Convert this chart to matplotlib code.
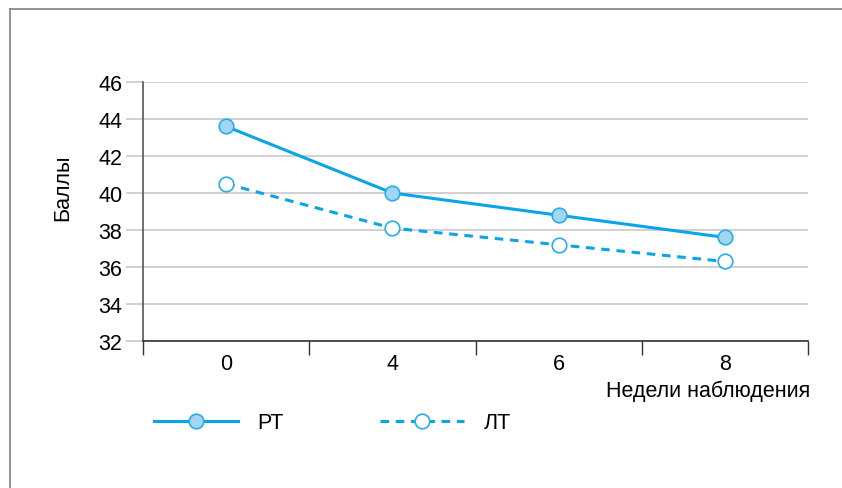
import numpy as np
import matplotlib.pyplot as plt
from matplotlib.lines import Line2D

plt.rcParams['font.family'] = ['Liberation Sans Narrow', 'Liberation Sans', 'DejaVu Sans']

# data
weeks = ['0', '4', '6', '8']
rt = [43.6, 40.0, 38.8, 37.6]
lt = [40.5, 38.1, 37.2, 36.3]
yticks = [32, 34, 36, 38, 40, 42, 44, 46]

line_col = '#0aa5e6'
fill_col = '#a3d5f5'
edge_col = '#29ade6'
dash = (0, (2.8, 2.2))

W, H = 842, 489
fig = plt.figure(figsize=(W / 100, H / 100), dpi=100)
ax = fig.add_axes([143 / W, 1 - 342 / H, (808 - 143) / W, (342 - 83) / H])

x = np.arange(len(weeks))
ax.plot(x, rt, color=line_col, lw=2.2, marker='o', ms=10.5,
        mfc=fill_col, mec=edge_col, mew=1.2, zorder=3)
ax.plot(x, lt, color=line_col, lw=2.2, ls=dash, marker='o', ms=10.5,
        mfc='white', mec=edge_col, mew=1.2, zorder=3)

ax.set_xlim(-0.5, 3.5)
ax.set_ylim(32, 46)
ax.set_yticks(yticks)
ax.set_yticklabels([str(v) for v in yticks], fontsize=15.5)
ax.yaxis.grid(True, color='#c8c8c8', lw=1.2)
ax.tick_params(axis='y', length=12, color='#c8c8c8', width=1.2, pad=3)

ax.set_xticks(x)
ax.set_xticklabels(weeks, fontsize=15.5)
ax.set_xticks(np.arange(-0.5, 4, 1), minor=True)
ax.tick_params(axis='x', which='major', length=0, pad=9)
ax.tick_params(axis='x', which='minor', length=10, color='#333333', width=1)

for s in ['top', 'right']:
    ax.spines[s].set_visible(False)
ax.spines['left'].set_color('#555555')
ax.spines['bottom'].set_color('#333333')
ax.spines['left'].set_linewidth(1.2)
ax.spines['bottom'].set_linewidth(1.2)
ax.set_axisbelow(True)

fig.text(63 / W, 1 - 188 / H, 'Баллы', rotation=90, fontsize=15.5,
         ha='center', va='center')
fig.text(810 / W, 1 - 391 / H, 'Недели наблюдения', fontsize=15.5,
         ha='right', va='center')

# legend
h1 = Line2D([], [], color=line_col, lw=2.2, marker='o', ms=10.5,
            mfc=fill_col, mec=edge_col, mew=1.2)
h2 = Line2D([], [], color=line_col, lw=2.2, ls=dash, marker='o', ms=10.5,
            mfc='white', mec=edge_col, mew=1.2)
fig.legend([h1, h2], ['РТ', 'ЛТ'], loc='center left',
           bbox_to_anchor=(143 / W, 1 - 424 / H), ncol=2, frameon=False,
           fontsize=15.5, handlelength=3.9, handletextpad=0.9, columnspacing=4.5,
           borderpad=0.2, borderaxespad=0.3)

# figure frame (top and left only)
fig.add_artist(Line2D([10 / W, 10 / W], [0, 1 - 10 / H], color='#808080',
                      lw=1.2, transform=fig.transFigure))
fig.add_artist(Line2D([10 / W, 1], [1 - 10 / H, 1 - 10 / H], color='#808080',
                      lw=1.2, transform=fig.transFigure))

fig.savefig('out.png', dpi=100, facecolor='white')
